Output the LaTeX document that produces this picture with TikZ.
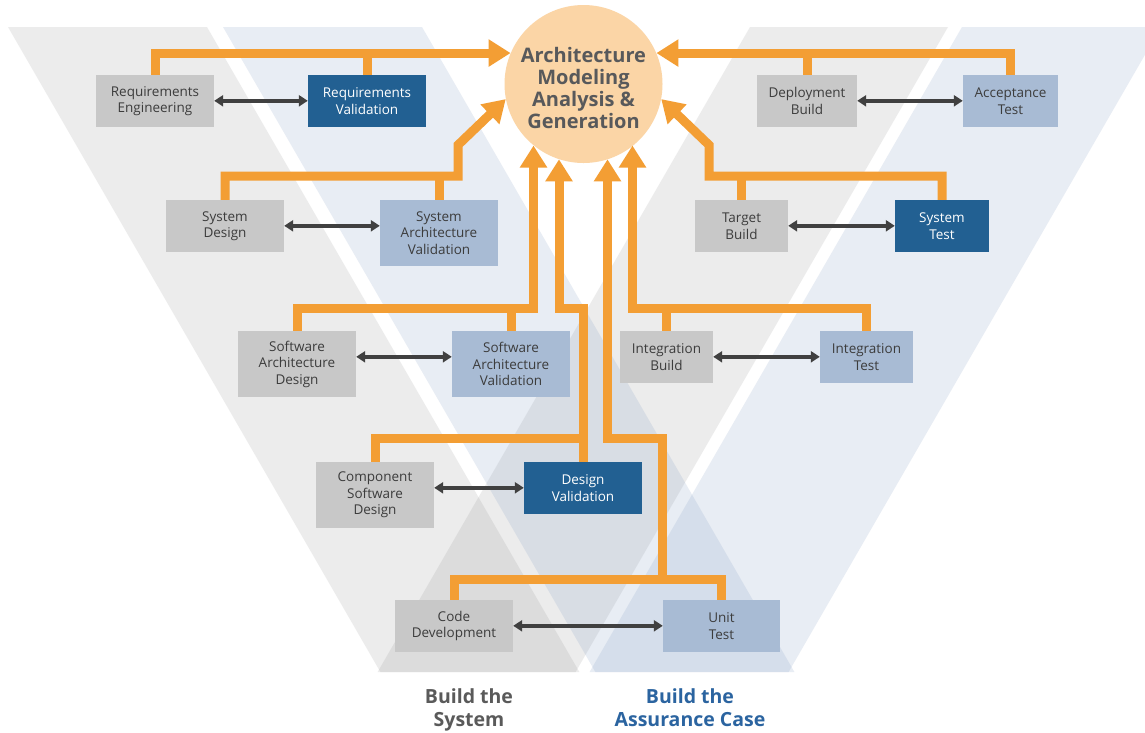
\documentclass[tikz,border=0pt]{standalone}
\usepackage{fontspec}
\setmainfont{Open Sans}
\usetikzlibrary{arrows.meta}

\definecolor{vgray}{RGB}{147,147,147}
\definecolor{vblue}{RGB}{140,165,200}
\definecolor{boxgray}{RGB}{200,200,200}
\definecolor{boxlight}{RGB}{168,187,212}
\definecolor{boxdark}{RGB}{34,96,146}
\definecolor{flowc}{RGB}{243,158,52}
\definecolor{hubc}{RGB}{251,213,166}
\definecolor{txtc}{RGB}{60,60,60}
\definecolor{hubtxt}{RGB}{88,89,91}
\definecolor{linkc}{RGB}{64,64,64}
\definecolor{captgray}{RGB}{90,90,90}
\definecolor{captblue}{RGB}{43,100,160}

\begin{document}
\begin{tikzpicture}[x=1pt, y=-1pt,
  grayband/.style={fill=vgray, fill opacity=.17},
  blueband/.style={fill=vblue, fill opacity=.2},
  stage/.style={fill=boxgray, text=txtc, inner sep=0pt, align=center, text width=118pt, minimum height=52pt, font=\fontsize{13.5}{16.5}\selectfont},
  check/.style={stage, fill=boxlight, text=txtc},
  gate/.style={stage, fill=boxdark, text=white},
  tall/.style={minimum height=66pt},
  boxw/.style={text width=#1},
  hub/.style={circle, fill=hubc, text=hubtxt, inner sep=0pt, minimum size=158pt, align=center, font=\bfseries\fontsize{20}{22}\selectfont},
  caption/.style={anchor=north, align=center, font=\bfseries\fontsize{19.5}{23}\selectfont},
  flowline/.style={draw=flowc, line width=9pt},
  flow/.style={flowline, -{Triangle[width=26pt,length=22pt]}},
  link/.style={draw=linkc, line width=3.5pt, {Triangle[width=11pt,length=9pt]}-{Triangle[width=11pt,length=9pt]}}]
\path[use as bounding box, fill=white] (0,0) rectangle (1145,732);

\fill[grayband] (8,27) -- (207,27) -- (579.4,672) -- (380.4,672) -- cycle;
\fill[grayband] (750,27) -- (948,27) -- (575.6,672) -- (377.6,672) -- cycle;
\fill[blueband] (223,27) -- (422,27) -- (794.4,672) -- (595.4,672) -- cycle;
\fill[blueband] (962,27) -- (1161,27) -- (788.6,672) -- (589.6,672) -- cycle;

\node[hub] (amag) at (583.5,84) {\rule{0pt}{24pt}Architecture\\Modeling\\Analysis \&\\Generation};

\node[stage] (re) at (155,101) {Requirements\\Engineering};
\node[gate] (rv) at (367,101) {Requirements\\Validation};
\node[stage, boxw=100pt] (db) at (807,101) {Deployment\\Build};
\node[check, boxw=95pt] (at) at (1010.5,101) {Acceptance\\Test};
\node[stage] (sd) at (225,226) {System\\Design};
\node[check, tall] (sav) at (439,233) {System\\Architecture\\Validation};
\node[stage, boxw=93pt] (tb) at (741.5,226) {Target\\Build};
\node[gate, boxw=94pt] (st) at (942,226) {System\\Test};
\node[stage, tall] (sad) at (297,364) {Software\\Architecture\\Design};
\node[check, tall] (swav) at (511,364) {Software\\Architecture\\Validation};
\node[stage, boxw=93pt] (ib) at (666.5,357) {Integration\\Build};
\node[check, boxw=93pt] (it) at (866.5,357) {Integration\\Test};
\node[stage, tall] (csd) at (375,495) {Component\\Software\\Design};
\node[gate] (dv) at (583,488) {Design\\Validation};
\node[stage] (cd) at (454,626) {Code\\Development};
\node[check, boxw=117pt] (ut) at (721.5,626) {Unit\\Test};

\node[caption, text=captgray] (bsys) at (469,685) {Build the\\System};
\node[caption, text=captblue] (bcase) at (690,685) {Build the\\Assurance Case};

\coordinate (bar2l) at (458,176);
\coordinate (bar2r) at (709,176);
\coordinate (bar3l) at (533.5,308);
\coordinate (bar3r) at (632.5,308);
\coordinate (bar4) at (583,438);
\coordinate (jog4) at (559,308);
\coordinate (bar5) at (662,579);
\coordinate (jog5) at (607.5,438);

\draw[flow] (re.north) |- (amag.157);
\draw[flowline] (rv.north) -- (rv.north |- amag.157);
\draw[flow] (at.north) |- (amag.23);
\draw[flowline] (db.north) -- (db.north |- amag.23);
\draw[flow] (sd.north) |- (bar2l) -- ++(0,-31) -- (amag.191);
\draw[flowline] (sav.north) -- (sav.north |- bar2l);
\draw[flow] (st.north) |- (bar2r) -- ++(0,-31) -- (amag.-11);
\draw[flowline] (tb.north) -- (tb.north |- bar2r);
\draw[flow] (sad.north) |- (bar3l) -- (bar3l |- amag.231);
\draw[flowline] (swav.north) -- (swav.north |- bar3l);
\draw[flow] (it.north) |- (bar3r) -- (bar3r |- amag.-51);
\draw[flowline] (ib.north) -- (ib.north |- bar3r);
\draw[flow] (csd.north) |- (bar4) |- (jog4) -- (jog4 |- amag.252);
\draw[flowline] (dv.north) -- (bar4);
\draw[flow] (cd.north) |- (bar5) |- (jog5) -- (jog5 |- amag.288);
\draw[flowline] (ut.north) |- (bar5);

\draw[link] ([yshift=-26pt]re.north east) -- ([yshift=-26pt]rv.north west);
\draw[link] ([yshift=-26pt]db.north east) -- ([yshift=-26pt]at.north west);
\draw[link] ([yshift=-26pt]sd.north east) -- ([yshift=-26pt]sav.north west);
\draw[link] ([yshift=-26pt]tb.north east) -- ([yshift=-26pt]st.north west);
\draw[link] ([yshift=-26pt]sad.north east) -- ([yshift=-26pt]swav.north west);
\draw[link] ([yshift=-26pt]ib.north east) -- ([yshift=-26pt]it.north west);
\draw[link] ([yshift=-26pt]csd.north east) -- ([yshift=-26pt]dv.north west);
\draw[link] ([yshift=-26pt]cd.north east) -- ([yshift=-26pt]ut.north west);
\end{tikzpicture}
\end{document}
